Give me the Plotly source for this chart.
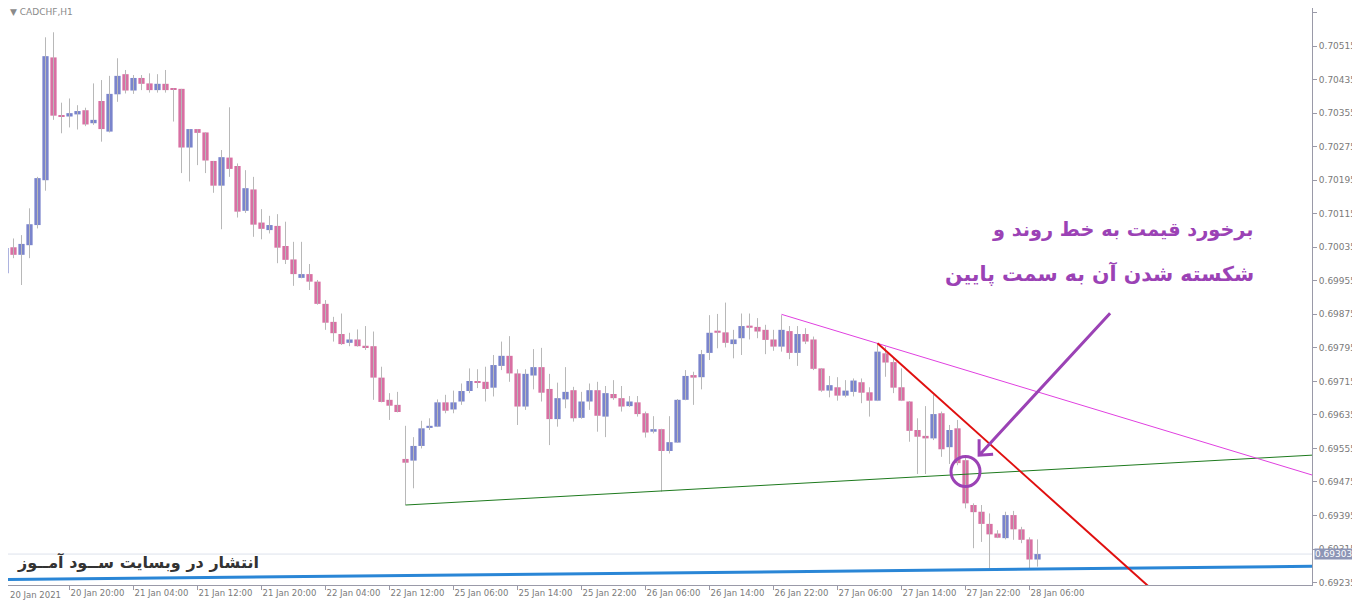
import plotly.graph_objects as go

# CADCHF H1 candles (oldest first)
opens = [
    0.69973, 0.70035, 0.70017, 0.70040, 0.70088, 0.70195, 0.70488, 0.70348, 0.70347, 0.70352,
    0.70362, 0.70331, 0.70384, 0.70311, 0.70400, 0.70448, 0.70409, 0.70439, 0.70426, 0.70410,
    0.70425, 0.70412, 0.70413, 0.70273, 0.70317, 0.70309, 0.70241, 0.70182, 0.70249, 0.70229,
    0.70122, 0.70173, 0.70094, 0.70076, 0.70086, 0.70038, 0.70006, 0.69962, 0.69971, 0.69953,
    0.69900, 0.69857, 0.69828, 0.69807, 0.69815, 0.69800, 0.69799, 0.69724, 0.69671, 0.69659,
    0.69530, 0.69526, 0.69561, 0.69604, 0.69607, 0.69665, 0.69648, 0.69667, 0.69692, 0.69716,
    0.69714, 0.69700, 0.69752, 0.69776, 0.69734, 0.69655, 0.69729, 0.69749, 0.69697, 0.69625,
    0.69672, 0.69694, 0.69628, 0.69667, 0.69694, 0.69631, 0.69685, 0.69675, 0.69656, 0.69665,
    0.69639, 0.69595, 0.69601, 0.69549, 0.69569, 0.69671, 0.69730, 0.69725, 0.69783, 0.69836,
    0.69832, 0.69804, 0.69818, 0.69848, 0.69845, 0.69838, 0.69815, 0.69798, 0.69835, 0.69783,
    0.69828, 0.69815, 0.69746, 0.69693, 0.69701, 0.69681, 0.69690, 0.69713, 0.69689, 0.69669,
    0.69782, 0.69761, 0.69701, 0.69667, 0.69599, 0.69585, 0.69579, 0.69639, 0.69558, 0.69603,
    0.69527, 0.69420, 0.69404, 0.69375, 0.69352, 0.69341, 0.69396, 0.69362, 0.69338, 0.69290,
]
highs = [
    0.70045, 0.70056, 0.70064, 0.70128, 0.70203, 0.70536, 0.70548, 0.70380, 0.70390, 0.70374,
    0.70368, 0.70426, 0.70434, 0.70444, 0.70486, 0.70458, 0.70446, 0.70446, 0.70450, 0.70448,
    0.70458, 0.70414, 0.70413, 0.70317, 0.70317, 0.70309, 0.70241, 0.70267, 0.70369, 0.70235,
    0.70219, 0.70203, 0.70126, 0.70110, 0.70114, 0.70096, 0.70048, 0.70048, 0.69995, 0.69957,
    0.69909, 0.69869, 0.69877, 0.69831, 0.69839, 0.69847, 0.69834, 0.69750, 0.69687, 0.69690,
    0.69609, 0.69582, 0.69621, 0.69627, 0.69672, 0.69683, 0.69693, 0.69710, 0.69746, 0.69744,
    0.69750, 0.69778, 0.69810, 0.69823, 0.69744, 0.69744, 0.69792, 0.69795, 0.69733, 0.69712,
    0.69749, 0.69702, 0.69690, 0.69710, 0.69714, 0.69704, 0.69718, 0.69704, 0.69680, 0.69680,
    0.69643, 0.69632, 0.69602, 0.69632, 0.69673, 0.69742, 0.69738, 0.69790, 0.69873, 0.69876,
    0.69903, 0.69838, 0.69877, 0.69877, 0.69866, 0.69850, 0.69838, 0.69873, 0.69847, 0.69847,
    0.69842, 0.69822, 0.69747, 0.69728, 0.69725, 0.69718, 0.69722, 0.69722, 0.69701, 0.69806,
    0.69798, 0.69772, 0.69746, 0.69668, 0.69627, 0.69656, 0.69683, 0.69643, 0.69611, 0.69623,
    0.69535, 0.69424, 0.69420, 0.69400, 0.69360, 0.69404, 0.69406, 0.69368, 0.69343, 0.69338,
]
lows = [
    0.69950, 0.70009, 0.69945, 0.70009, 0.70080, 0.70170, 0.70339, 0.70307, 0.70321, 0.70316,
    0.70324, 0.70327, 0.70287, 0.70309, 0.70382, 0.70402, 0.70401, 0.70410, 0.70404, 0.70404,
    0.70404, 0.70335, 0.70212, 0.70192, 0.70231, 0.70212, 0.70165, 0.70078, 0.70203, 0.70106,
    0.70117, 0.70060, 0.70054, 0.70068, 0.69997, 0.69995, 0.69943, 0.69961, 0.69933, 0.69898,
    0.69838, 0.69810, 0.69802, 0.69799, 0.69798, 0.69790, 0.69671, 0.69665, 0.69623, 0.69641,
    0.69420, 0.69460, 0.69555, 0.69599, 0.69606, 0.69639, 0.69639, 0.69659, 0.69687, 0.69699,
    0.69667, 0.69679, 0.69742, 0.69714, 0.69611, 0.69647, 0.69696, 0.69667, 0.69563, 0.69607,
    0.69651, 0.69619, 0.69626, 0.69647, 0.69595, 0.69582, 0.69671, 0.69643, 0.69654, 0.69631,
    0.69581, 0.69591, 0.69452, 0.69543, 0.69568, 0.69670, 0.69659, 0.69696, 0.69766, 0.69794,
    0.69796, 0.69770, 0.69778, 0.69815, 0.69818, 0.69780, 0.69788, 0.69786, 0.69768, 0.69752,
    0.69804, 0.69742, 0.69690, 0.69677, 0.69669, 0.69677, 0.69679, 0.69663, 0.69631, 0.69668,
    0.69726, 0.69687, 0.69668, 0.69571, 0.69494, 0.69494, 0.69575, 0.69535, 0.69518, 0.69515,
    0.69412, 0.69317, 0.69332, 0.69269, 0.69341, 0.69338, 0.69337, 0.69329, 0.69269, 0.69273,
]
closes = [
    0.70033, 0.70017, 0.70043, 0.70090, 0.70200, 0.70491, 0.70349, 0.70347, 0.70355, 0.70360,
    0.70328, 0.70339, 0.70317, 0.70401, 0.70444, 0.70409, 0.70439, 0.70425, 0.70410, 0.70425,
    0.70410, 0.70411, 0.70273, 0.70317, 0.70308, 0.70242, 0.70182, 0.70250, 0.70222, 0.70120,
    0.70176, 0.70089, 0.70079, 0.70088, 0.70034, 0.70005, 0.69971, 0.69971, 0.69953, 0.69900,
    0.69855, 0.69830, 0.69804, 0.69815, 0.69799, 0.69796, 0.69724, 0.69666, 0.69657, 0.69642,
    0.69521, 0.69561, 0.69603, 0.69609, 0.69665, 0.69645, 0.69665, 0.69692, 0.69716, 0.69712,
    0.69697, 0.69754, 0.69776, 0.69734, 0.69655, 0.69733, 0.69749, 0.69688, 0.69625, 0.69675,
    0.69690, 0.69627, 0.69667, 0.69694, 0.69633, 0.69687, 0.69675, 0.69655, 0.69667, 0.69637,
    0.69593, 0.69601, 0.69549, 0.69570, 0.69671, 0.69728, 0.69724, 0.69780, 0.69831, 0.69831,
    0.69807, 0.69815, 0.69847, 0.69843, 0.69834, 0.69814, 0.69798, 0.69838, 0.69783, 0.69828,
    0.69810, 0.69745, 0.69693, 0.69706, 0.69681, 0.69693, 0.69717, 0.69688, 0.69669, 0.69786,
    0.69760, 0.69700, 0.69669, 0.69597, 0.69583, 0.69579, 0.69637, 0.69553, 0.69599, 0.69520,
    0.69424, 0.69403, 0.69375, 0.69350, 0.69342, 0.69396, 0.69362, 0.69337, 0.69290, 0.69303,
]

# MT4 puts a time label every 8 bars
time_labels = [
    "20 Jan 2021", "20 Jan 20:00", "21 Jan 04:00", "21 Jan 12:00", "21 Jan 20:00",
    "22 Jan 04:00", "22 Jan 12:00", "25 Jan 06:00", "25 Jan 14:00", "25 Jan 22:00",
    "26 Jan 06:00", "26 Jan 14:00", "26 Jan 22:00", "27 Jan 06:00", "27 Jan 14:00",
    "27 Jan 22:00", "28 Jan 06:00",
]
LABEL_STEP = 8

price_ticks = [
    0.69235, 0.69315, 0.69395, 0.69475, 0.69555, 0.69635, 0.69715, 0.69795, 0.69875,
    0.69955, 0.70035, 0.70115, 0.70195, 0.70275, 0.70355, 0.70435, 0.70515, 0.70595,
]
last_price = 0.69303

# hand drawn objects: (bar index, price) anchors
green_line = ([50, 170], [0.69420, 0.69546])
magenta_line = ([97, 170], [0.69875, 0.69453])
red_line = ([109, 150], [0.69806, 0.69104])
blue_line = ([-1, 170], [0.69242, 0.69275])
circle_at = (120, 0.69500)
arrow_tip = (121.7, 0.69539)

note_1 = "برخورد قیمت به خط روند و"
note_2 = "شکسته شدن آن به سمت پایین"
watermark = "انتشار در وبسایت ســود آمــوز"

BULL = "#7a84cc"
BEAR = "#d870a3"
WICK = "#b8b8b8"
PURPLE = "#9b42b5"
FRAME = "#9a9aa8"
TXT = "#7a7a7a"
FONT = "DejaVu Sans"

bars = list(range(len(opens)))

wick_x, wick_y = [], []
for i, (h, l) in enumerate(zip(highs, lows)):
    wick_x += [i, i, None]
    wick_y += [l, h, None]

fig = go.Figure()
fig.add_trace(go.Scatter(x=wick_x, y=wick_y, mode="lines",
                         line=dict(color=WICK, width=1), hoverinfo="skip"))

for up, color in ((True, BULL), (False, BEAR)):
    idx = [i for i in bars if (closes[i] >= opens[i]) == up]
    fig.add_trace(go.Bar(
        x=idx,
        base=[min(opens[i], closes[i]) for i in idx],
        y=[max(abs(closes[i] - opens[i]), 0.00002) for i in idx],
        width=0.78, marker=dict(color=color, line=dict(width=0)),
        hoverinfo="skip",
    ))

for (xs, ys), color, w in ((blue_line, "#2a86d6", 3), (green_line, "#1e7a1e", 1),
                           (magenta_line, "#e040e0", 1), (red_line, "#e01010", 2)):
    fig.add_trace(go.Scatter(x=xs, y=ys, mode="lines",
                             line=dict(color=color, width=w), hoverinfo="skip"))

shapes = [
    dict(type="line", xref="paper", x0=0, x1=1, yref="y", y0=last_price, y1=last_price,
         line=dict(color="#dde2ec", width=1), layer="below"),
    dict(type="circle", xsizemode="pixel", ysizemode="pixel",
         xanchor=circle_at[0], yanchor=circle_at[1], xref="x", yref="y",
         x0=-14.5, x1=14.5, y0=-15, y1=15, line=dict(color=PURPLE, width=3)),
    dict(type="path", xsizemode="pixel", ysizemode="pixel",
         xanchor=arrow_tip[0], yanchor=arrow_tip[1], xref="x", yref="y",
         path="M131,142 L1,1 M0,16 L0,0 L14,1", line=dict(color=PURPLE, width=3)),
]

annotations = [
    dict(text="▼ " + "CADCHF,H1", xref="paper", yref="paper", x=0, y=0.993,
         xanchor="left", yanchor="middle", showarrow=False,
         font=dict(family=FONT, size=9, color="#8a8a8a")),
    # first time label sits at the very left edge, outside the visible range
    dict(text=time_labels[0], xref="paper", yref="paper", x=0, y=0,
         xanchor="left", yanchor="top", yshift=-3, showarrow=False,
         font=dict(family=FONT, size=8.5, color=TXT)),
    dict(text=note_1, xref="paper", yref="paper", x=0.957, y=0.6153,
         xanchor="right", yanchor="middle", showarrow=False,
         font=dict(family=FONT, size=19.3, color=PURPLE, weight="bold")),
    dict(text=note_2, xref="paper", yref="paper", x=0.957, y=0.539,
         xanchor="right", yanchor="middle", showarrow=False,
         font=dict(family=FONT, size=20.5, color=PURPLE, weight="bold")),
    dict(text=watermark, xref="paper", yref="paper", x=0.0054, y=0.0399,
         xanchor="left", yanchor="middle", showarrow=False,
         font=dict(family=FONT, size=16, color="#333333", weight="bold")),
    dict(text=f"{last_price:.5f}", xref="paper", yref="y", x=1, y=last_price,
         xanchor="left", yanchor="middle", xshift=2, showarrow=False,
         bgcolor="#8d95b5", borderpad=0,
         font=dict(family=FONT, size=9, color="white")),
]

# the page body adds an 8px margin, so the figure is 8px smaller each way
fig.update_layout(
    width=1352, height=594,
    margin=dict(l=0, r=48, t=0, b=17),
    paper_bgcolor="white", plot_bgcolor="white",
    showlegend=False, barmode="overlay",
    font=dict(family=FONT, size=9, color=TXT),
    shapes=shapes, annotations=annotations,
)
fig.update_xaxes(
    range=[0.3125, 163.31], showgrid=False, zeroline=False,
    showline=True, mirror=True, linecolor=FRAME, linewidth=1,
    tickvals=bars[::LABEL_STEP], ticktext=time_labels,
    ticks="outside", ticklen=4, tickcolor=FRAME,
    ticklabelposition="outside right",
    tickfont=dict(family=FONT, size=8.5, color=TXT),
)
fig.update_yaxes(
    range=[0.692292, 0.706059], side="right", showgrid=False, zeroline=False,
    showline=True, mirror=True, linecolor=FRAME, linewidth=1,
    tickvals=price_ticks, ticktext=[f"{p:.5f}" for p in price_ticks],
    ticks="outside", ticklen=4, tickcolor=FRAME,
    tickfont=dict(family=FONT, size=9, color=TXT),
)

fig.write_html("out.html")
